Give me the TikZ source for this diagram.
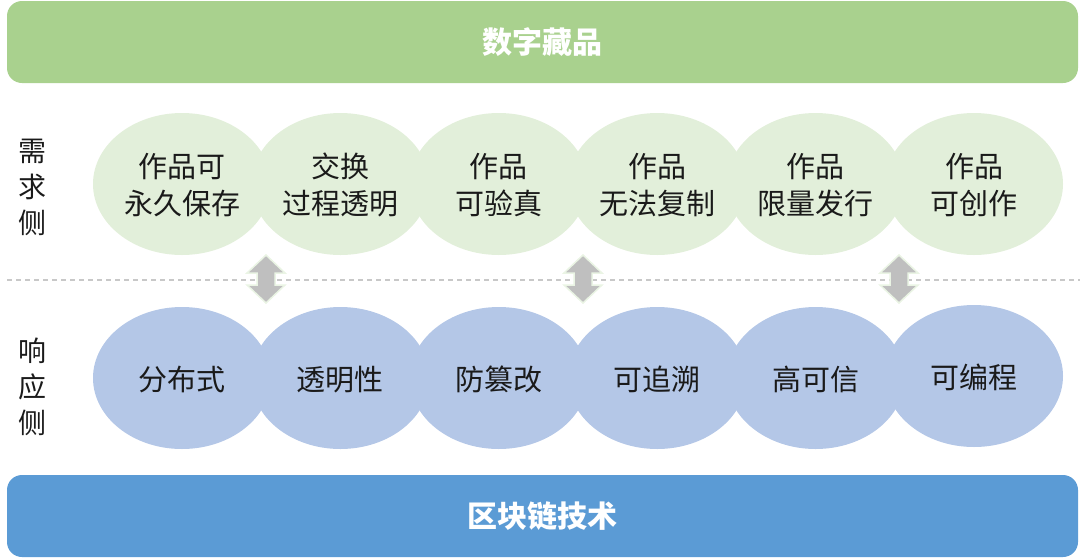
\documentclass[tikz,border=0pt]{standalone}
\usepackage{fontspec}
\setmainfont{Noto Sans CJK SC}
\usetikzlibrary{shapes.geometric}
\definecolor{topbar}{HTML}{A9D18E}
\definecolor{botbar}{HTML}{5B9BD5}
\definecolor{needc}{HTML}{E2EFDA}
\definecolor{respc}{HTML}{B4C7E7}
\definecolor{arrowc}{HTML}{BFBFBF}
\definecolor{arrowedge}{HTML}{EAF4E4}
\definecolor{dashc}{HTML}{C8C8C8}
\definecolor{txt}{HTML}{1A1A1A}
\newcommand\droptext[1]{\raisebox{-5pt}[\height][\depth]{\begin{tabular}{@{}c@{}}#1\end{tabular}}}
\begin{document}
\begin{tikzpicture}[x=1pt,y=-1pt,
  bar/.style={rounded corners=15pt, minimum width=1071pt, minimum height=82pt, inner sep=0pt,
    text=white, font=\bfseries\fontsize{30}{36}\selectfont},
  need/.style={ellipse, fill=needc, minimum width=178pt, minimum height=142pt, inner sep=0pt,
    align=center, text=txt, font=\fontsize{29}{37}\selectfont},
  resp/.style={need, fill=respc},
  side/.style={align=center, text=txt, inner sep=0pt, font=\fontsize{28}{36}\selectfont},
  divider/.style={draw=dashc, line width=1.5pt, dash pattern=on 5pt off 4pt},
  biarrow/.pic={\path[fill=arrowc, draw=arrowedge, line width=1.5pt, line join=miter]
    (0,-24) -- (19,-6) -- (9,-6) -- (9,6) -- (19,6) -- (0,24) -- (-19,6) -- (-9,6)
    -- (-9,-6) -- (-19,-6) -- cycle;}
]
\useasboundingbox (0,0) rectangle (1080,558);

% bars
\node[bar, fill=topbar] (top) at (542.5,42) {数字藏品};
\node[bar, fill=botbar] (bot) at (542.5,516) {区块链技术};

% side labels
\node[side] (needlbl) at (33,187) {需\\求\\侧};
\node[side] (resplbl) at (33,387) {响\\应\\侧};

% need ellipses
\node[need] (n1) at (182,184) {\droptext{作品可\\永久保存}};
\node[need] (n2) at (340.4,184) {\droptext{交换\\过程透明}};
\node[need] (n3) at (498.8,184) {\droptext{作品\\可验真}};
\node[need] (n4) at (657.2,184) {\droptext{作品\\无法复制}};
\node[need] (n5) at (815.6,184) {\droptext{作品\\限量发行}};
\node[need] (n6) at (974,184) {\droptext{作品\\可创作}};

% response ellipses
\node[resp] (r1) at (182,378) {\droptext{分布式}};
\node[resp] (r2) at (340.4,378) {\droptext{透明性}};
\node[resp] (r3) at (498.8,378) {\droptext{防篡改}};
\node[resp] (r4) at (657.2,378) {\droptext{可追溯}};
\node[resp] (r5) at (815.6,378) {\droptext{高可信}};
\node[resp] (r6) at (974,376) {\droptext{可编程}};

% divider
\coordinate (dl) at (7,280);
\coordinate (dr) at (1080,280);
\draw[divider] (dl) -- (dr);

% double arrows
\pic (a1) at (266,279) {biarrow};
\pic (a2) at (583,279) {biarrow};
\pic (a3) at (899,279) {biarrow};
\end{tikzpicture}
\end{document}
